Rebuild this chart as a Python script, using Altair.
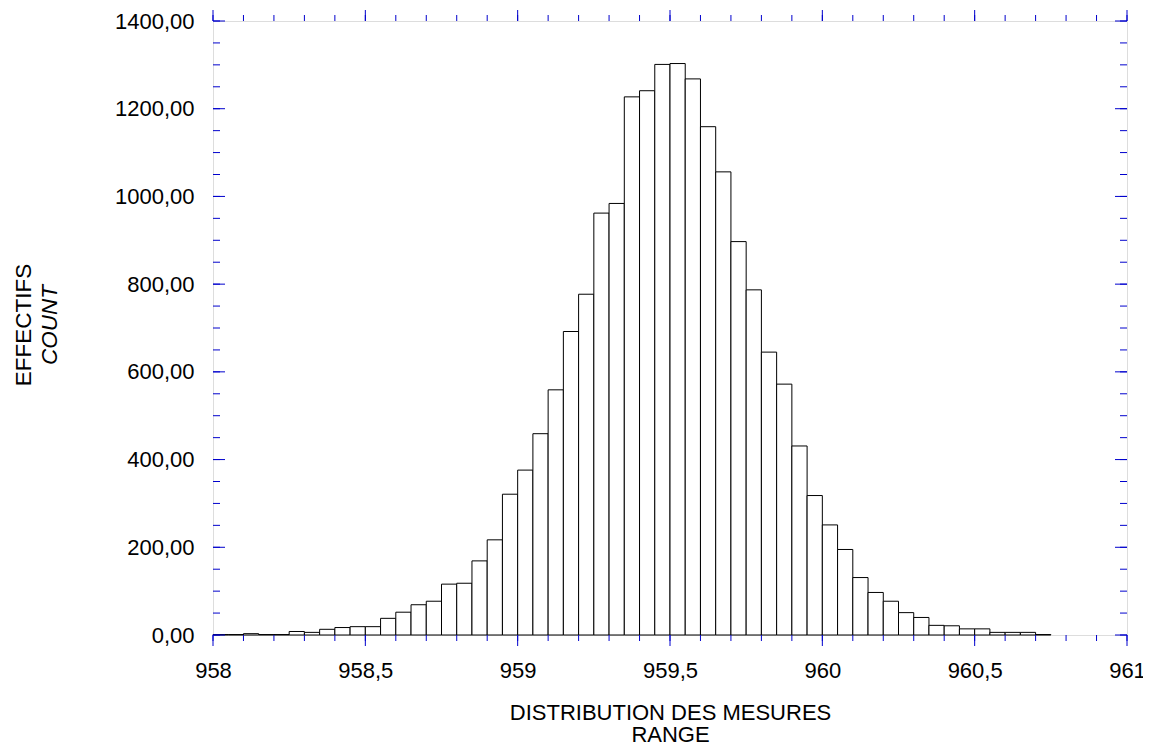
import altair as alt
import pandas as pd

# Histogram bins (lower edge) and counts
bin_lo = [958.00, 958.05, 958.10, 958.15, 958.20, 958.25, 958.30, 958.35, 958.40, 958.45,
          958.50, 958.55, 958.60, 958.65, 958.70, 958.75, 958.80, 958.85, 958.90, 958.95,
          959.00, 959.05, 959.10, 959.15, 959.20, 959.25, 959.30, 959.35, 959.40, 959.45,
          959.50, 959.55, 959.60, 959.65, 959.70, 959.75, 959.80, 959.85, 959.90, 959.95,
          960.00, 960.05, 960.10, 960.15, 960.20, 960.25, 960.30, 960.35, 960.40, 960.45,
          960.50, 960.55, 960.60, 960.65, 960.70]
counts = [1, 1, 3, 1, 1, 8, 6, 13, 17, 19,
          19, 38, 52, 69, 77, 116, 118, 169, 217, 321,
          376, 459, 559, 692, 777, 962, 984, 1227, 1241, 1301,
          1303, 1268, 1159, 1056, 897, 787, 645, 572, 431, 318,
          251, 195, 131, 97, 77, 51, 40, 22, 21, 14,
          14, 6, 6, 6, 1]
bin_width = 0.05

x_major = [958.0, 958.5, 959.0, 959.5, 960.0, 960.5, 961.0]
x_minor = [958.0, 958.1, 958.2, 958.3, 958.4, 958.5, 958.6, 958.7, 958.8, 958.9,
           959.0, 959.1, 959.2, 959.3, 959.4, 959.5, 959.6, 959.7, 959.8, 959.9,
           960.0, 960.1, 960.2, 960.3, 960.4, 960.5, 960.6, 960.7, 960.8, 960.9, 961.0]
y_major = [0, 200, 400, 600, 800, 1000, 1200, 1400]
y_minor = [0, 50, 100, 150, 200, 250, 300, 350, 400, 450, 500, 550, 600, 650, 700,
           750, 800, 850, 900, 950, 1000, 1050, 1100, 1150, 1200, 1250, 1300, 1350, 1400]

x_title = ["DISTRIBUTION DES MESURES", "RANGE"]
y_title_1 = "EFFECTIFS"
y_title_2 = "COUNT"

W, H = 914, 614
BLUE = "#0000cd"
FONT = "Liberation Sans"

df = pd.DataFrame({"lo": bin_lo, "count": counts})
df["hi"] = df["lo"] + bin_width

xscale = alt.Scale(domain=[958, 961], nice=False, zero=False)
yscale = alt.Scale(domain=[0, 1400], nice=False)

x_axis = alt.Axis(values=x_major, ticks=False, tickSize=0, domain=False, grid=False,
                  labelExpr="replace(toString(datum.value), '.', ',')",
                  labelFontSize=22, labelFont=FONT, labelColor="black",
                  labelPadding=25, labelFlush=False,
                  title=x_title, titleFont=FONT, titleFontSize=22,
                  titleFontWeight="normal", titleColor="black",
                  titleLineHeight=22.5, titlePadding=21)
y_axis = alt.Axis(values=y_major, ticks=False, tickSize=0, domain=False, grid=False,
                  labelExpr="replace(format(datum.value, '.2f'), '.', ',')",
                  labelFontSize=22, labelFont=FONT, labelColor="black",
                  labelPadding=19, labelFlush=False, title="")

bars = alt.Chart(df).mark_bar(fill="white", stroke="black", strokeWidth=1).encode(
    x=alt.X("lo:Q", scale=xscale, axis=x_axis),
    x2="hi:Q",
    y=alt.Y("count:Q", scale=yscale, axis=y_axis),
    y2=alt.datum(0),
)

def xticks(vals, y0, y1):
    return alt.Chart(pd.DataFrame({"v": vals})).mark_rule(color=BLUE, strokeWidth=1).encode(
        x=alt.X("v:Q", scale=xscale, axis=x_axis),
        y=alt.value(y0), y2=alt.value(y1))

def yticks(vals, x0, x1):
    return alt.Chart(pd.DataFrame({"v": vals})).mark_rule(color=BLUE, strokeWidth=1).encode(
        y=alt.Y("v:Q", scale=yscale, axis=y_axis),
        x=alt.value(x0), x2=alt.value(x1))

tick_layers = [
    xticks(x_minor, H, H + 6), xticks(x_major, H, H + 11),
    xticks(x_minor, 0, -6), xticks(x_major, 0, -11),
    yticks(y_minor, 0, 7), yticks(y_major, 0, 12),
    yticks(y_minor, W, W - 7), yticks(y_major, W, W - 12),
]

ytitle1 = alt.Chart(pd.DataFrame({"t": [y_title_1]})).mark_text(
    angle=270, font=FONT, fontSize=22.5, color="black", align="center", baseline="middle"
).encode(text="t:N", x=alt.value(-189), y=alt.value(304))

ytitle2 = alt.Chart(pd.DataFrame({"t": [y_title_2]})).mark_text(
    angle=270, font=FONT, fontSize=22.5, fontStyle="italic", color="black",
    align="center", baseline="middle"
).encode(text="t:N", x=alt.value(-163), y=alt.value(304))

chart = alt.layer(bars, *tick_layers, ytitle1, ytitle2).properties(
    width=W, height=H,
    autosize=alt.AutoSizeParams(type="none"),
    padding={"left": 205, "top": 13, "right": 16, "bottom": 108},
).configure_view(stroke=BLUE, strokeWidth=1).configure(background="white")

chart.save("out.html", embed_options={"renderer": "svg", "actions": False})
